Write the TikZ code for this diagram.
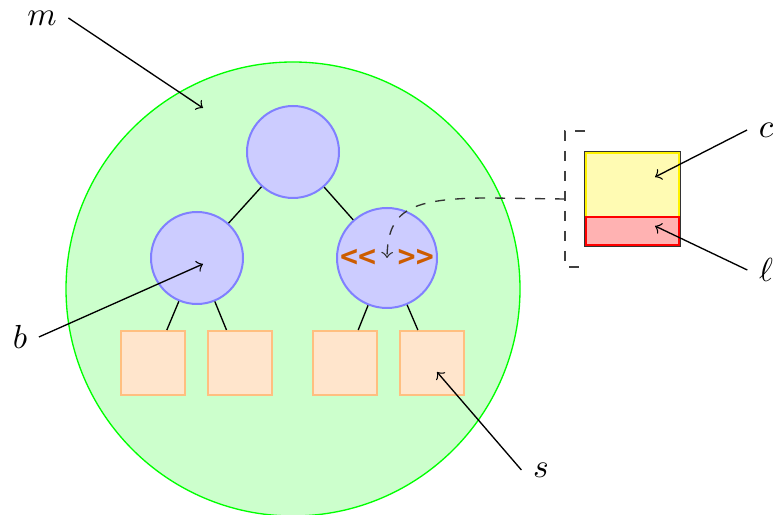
\documentclass[tikz,border=0pt]{standalone}
\usepackage{amsmath}
\usepackage{xcolor}
\usepackage{fontspec}
\usepackage{tikz}
\usetikzlibrary{positioning}
\usetikzlibrary{fit}

\newfontfamily\tagfont{DejaVu Sans Mono}
\definecolor{tagorange}{RGB}{204,92,0}

\begin{document}
\begin{tikzpicture}[x=0.3pt,y=-0.3pt,
  inner/.style={circle, draw=blue!50, fill=blue!20, semithick, minimum size=27.6pt, inner sep=0pt},
  leaf/.style={rectangle, draw=orange!50, fill=orange!20, semithick, minimum size=19.2pt, inner sep=0pt},
  slot/.style={rectangle, thick, minimum width=27.9pt, inner sep=0pt}]

\useasboundingbox (0,0) rectangle (776,515);

% Draw memory region
\node[circle, draw=green, fill=green!20, minimum size=136.2pt, inner sep=0pt] (mem) at (293,289) {};

% Draw tree
\node[inner] (root) at (293,152) {};
\node[inner] (lft) at (197,258) {};
\node[inner, minimum size=30pt] (rgt) at (387,258) {\textcolor{tagorange}{\fontsize{9}{10}\tagfont\bfseries <{}<\hspace{1pt} >{}>}};
\node[leaf] (s1) at (153,363) {};
\node[leaf] (s2) at (240,363) {};
\node[leaf] (s3) at (345,363) {};
\node[leaf] (s4) at (432,363) {};
\draw (root) -- (lft);
\draw (root) -- (rgt);
\draw (lft) -- (s1);
\draw (lft) -- (s2);
\draw (rgt) -- (s3);
\draw (rgt) -- (s4);

% Draw cell
\node[slot, draw=yellow, fill=yellow!30, minimum height=19.2pt] (cell) at (632.5,185) {};
\node[slot, draw=red, fill=red!30, minimum height=8.4pt] (lock) at (632.5,231) {};
\node[draw=black!80, thin, inner sep=0pt, fit=(cell)(lock)] (box) {};

% Draw bracket and zoom arrow
\coordinate (bt) at (585,131);
\coordinate (bb) at (585,267);
\coordinate (bm) at (565,199);
\draw[dashed, black!75] (bt) -- (565,131) -- (565,267) -- (bb);
\draw[dashed, ->, black!80] (bm) -- (490,198) .. controls (410,198) and (388,210) .. (rgt.center);

% Draw labels
\node (m) at (42,18) {$m$};
\node (c) at (766,130) {$c$};
\node (l) at (766,270) {$\ell$};
\node (b) at (20,337) {$b$};
\node (s) at (541,470) {$s$};
\coordinate (mtip) at (203,108);
\coordinate (ctip) at (655,177);
\coordinate (ltip) at (655,226);
\coordinate (btip) at (203,264);
\coordinate (stip) at (437,372);
\draw[->] (m.east) -- (mtip);
\draw[->] (c.west) -- (ctip);
\draw[->] (l.west) -- (ltip);
\draw[->] (b.east) -- (btip);
\draw[->] (s.west) -- (stip);

\end{tikzpicture}
\end{document}
